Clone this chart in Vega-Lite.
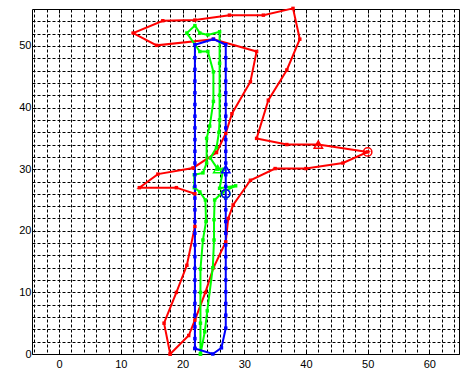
{
"$schema": "https://vega.github.io/schema/vega-lite/v6.json",
"width": 427, "height": 345,
"autosize": {"type": "none"},
"padding": {"left": 32, "top": 9, "right": 1, "bottom": 20},
"background": "white",
"config": {
 "view": {"stroke": "black", "strokeWidth": 1},
 "axis": {"labelFont": "Liberation Sans", "labelFontSize": 11, "labelColor": "black", "tickColor": "black", "title": null, "domain": false}
},
"datasets": {
 "poly": [
  {"s":"red","i":0,"x":18,"y":0},{"s":"red","i":1,"x":17,"y":5},{"s":"red","i":2,"x":19,"y":10},{"s":"red","i":3,"x":20.7,"y":14.4},{"s":"red","i":4,"x":22,"y":20.7},{"s":"red","i":5,"x":22,"y":26},{"s":"red","i":6,"x":19,"y":27},{"s":"red","i":7,"x":13,"y":27},{"s":"red","i":8,"x":16,"y":29.2},{"s":"red","i":9,"x":21.7,"y":30.2},{"s":"red","i":10,"x":25.5,"y":32.7},{"s":"red","i":11,"x":27,"y":35.8},{"s":"red","i":12,"x":28,"y":39},{"s":"red","i":13,"x":31,"y":44.2},{"s":"red","i":14,"x":32,"y":49.1},{"s":"red","i":15,"x":25,"y":51.1},{"s":"red","i":16,"x":15.8,"y":50.1},{"s":"red","i":17,"x":12,"y":52.1},{"s":"red","i":18,"x":16.8,"y":54.1},{"s":"red","i":19,"x":22,"y":54.2},{"s":"red","i":20,"x":27.6,"y":55},{"s":"red","i":21,"x":33.1,"y":55},{"s":"red","i":22,"x":37.9,"y":56.1},{"s":"red","i":23,"x":39,"y":51.1},{"s":"red","i":24,"x":36.9,"y":46.1},{"s":"red","i":25,"x":33.9,"y":41.2},{"s":"red","i":26,"x":32,"y":35},{"s":"red","i":27,"x":36.9,"y":34},{"s":"red","i":28,"x":42,"y":34},{"s":"red","i":29,"x":50,"y":32.8},{"s":"red","i":30,"x":46,"y":31},{"s":"red","i":31,"x":40,"y":30.1},{"s":"red","i":32,"x":35,"y":30.1},{"s":"red","i":33,"x":31,"y":28.2},{"s":"red","i":34,"x":28.2,"y":24.2},{"s":"red","i":35,"x":27.4,"y":22},{"s":"red","i":36,"x":27,"y":18.2},{"s":"red","i":37,"x":25,"y":14},{"s":"red","i":38,"x":23.7,"y":10},{"s":"red","i":39,"x":22,"y":5.5},{"s":"red","i":40,"x":21,"y":3},{"s":"red","i":41,"x":18,"y":0},
  {"s":"green","i":0,"x":22.9,"y":0},{"s":"green","i":1,"x":22.9,"y":5},{"s":"green","i":2,"x":22.9,"y":10},{"s":"green","i":3,"x":22.9,"y":13.8},{"s":"green","i":4,"x":23.3,"y":18.5},{"s":"green","i":5,"x":23.8,"y":21.5},{"s":"green","i":6,"x":23.7,"y":25},{"s":"green","i":7,"x":22.8,"y":26.3},{"s":"green","i":8,"x":21.9,"y":27},{"s":"green","i":9,"x":21.9,"y":29.1},{"s":"green","i":10,"x":23.3,"y":29.4},{"s":"green","i":11,"x":23.9,"y":31},{"s":"green","i":12,"x":23.9,"y":35},{"s":"green","i":13,"x":24.4,"y":37},{"s":"green","i":14,"x":25,"y":41},{"s":"green","i":15,"x":25,"y":45.8},{"s":"green","i":16,"x":24.1,"y":49.1},{"s":"green","i":17,"x":22.8,"y":49.1},{"s":"green","i":18,"x":20.7,"y":52.1},{"s":"green","i":19,"x":22,"y":53.3},{"s":"green","i":20,"x":22.8,"y":52.1},{"s":"green","i":21,"x":24.1,"y":51.8},{"s":"green","i":22,"x":26,"y":52.3},{"s":"green","i":23,"x":26,"y":47.2},{"s":"green","i":24,"x":26,"y":42},{"s":"green","i":25,"x":26,"y":38},{"s":"green","i":26,"x":25.9,"y":36},{"s":"green","i":27,"x":25.5,"y":33.5},{"s":"green","i":28,"x":24.5,"y":31.8},{"s":"green","i":29,"x":25.7,"y":30},{"s":"green","i":30,"x":26.6,"y":30},{"s":"green","i":31,"x":26,"y":26.9},{"s":"green","i":32,"x":28.6,"y":27.3},{"s":"green","i":33,"x":26.5,"y":26.3},{"s":"green","i":34,"x":25.2,"y":25},{"s":"green","i":35,"x":25.1,"y":21.8},{"s":"green","i":36,"x":25.1,"y":18.5},{"s":"green","i":37,"x":24.9,"y":14},{"s":"green","i":38,"x":24,"y":7},{"s":"green","i":39,"x":23.6,"y":3.6},{"s":"green","i":40,"x":22.9,"y":0},
  {"s":"blue","i":0,"x":22,"y":0.9},{"s":"blue","i":1,"x":22,"y":2.5},{"s":"blue","i":2,"x":22,"y":4.4},{"s":"blue","i":3,"x":22,"y":6.3},{"s":"blue","i":4,"x":22,"y":8.2},{"s":"blue","i":5,"x":22,"y":10.1},{"s":"blue","i":6,"x":22,"y":12},{"s":"blue","i":7,"x":22,"y":13.9},{"s":"blue","i":8,"x":22,"y":15.8},{"s":"blue","i":9,"x":22,"y":17.7},{"s":"blue","i":10,"x":22,"y":19.6},{"s":"blue","i":11,"x":22,"y":21.5},{"s":"blue","i":12,"x":22,"y":23.4},{"s":"blue","i":13,"x":22,"y":25.3},{"s":"blue","i":14,"x":22,"y":27.2},{"s":"blue","i":15,"x":22,"y":29.1},{"s":"blue","i":16,"x":22,"y":31},{"s":"blue","i":17,"x":22,"y":32.9},{"s":"blue","i":18,"x":22,"y":34.8},{"s":"blue","i":19,"x":22,"y":36.7},{"s":"blue","i":20,"x":22,"y":38.6},{"s":"blue","i":21,"x":22,"y":40.5},{"s":"blue","i":22,"x":22,"y":42.4},{"s":"blue","i":23,"x":22,"y":44.3},{"s":"blue","i":24,"x":22,"y":46.2},{"s":"blue","i":25,"x":22,"y":48.1},{"s":"blue","i":26,"x":22,"y":50.2},{"s":"blue","i":27,"x":25,"y":51.1},{"s":"blue","i":28,"x":27,"y":50.2},{"s":"blue","i":29,"x":27,"y":48.1},{"s":"blue","i":30,"x":27,"y":46.2},{"s":"blue","i":31,"x":27,"y":44.3},{"s":"blue","i":32,"x":27,"y":42.4},{"s":"blue","i":33,"x":27,"y":40.5},{"s":"blue","i":34,"x":27,"y":38.6},{"s":"blue","i":35,"x":27,"y":36.7},{"s":"blue","i":36,"x":27,"y":34.8},{"s":"blue","i":37,"x":27,"y":32.9},{"s":"blue","i":38,"x":27,"y":31},{"s":"blue","i":39,"x":27,"y":29.1},{"s":"blue","i":40,"x":27,"y":27.2},{"s":"blue","i":41,"x":27,"y":25.3},{"s":"blue","i":42,"x":27,"y":23.4},{"s":"blue","i":43,"x":27,"y":21.5},{"s":"blue","i":44,"x":27,"y":19.6},{"s":"blue","i":45,"x":27,"y":17.7},{"s":"blue","i":46,"x":27,"y":15.8},{"s":"blue","i":47,"x":27,"y":13.9},{"s":"blue","i":48,"x":27,"y":12},{"s":"blue","i":49,"x":27,"y":10.1},{"s":"blue","i":50,"x":27,"y":8.2},{"s":"blue","i":51,"x":27,"y":6.3},{"s":"blue","i":52,"x":27,"y":4.2},{"s":"blue","i":53,"x":26.3,"y":1},{"s":"blue","i":54,"x":24.9,"y":0},{"s":"blue","i":55,"x":22,"y":0.9}
 ],
 "markers": [
  {"s":"red","m":"triangle","x":42,"y":34},
  {"s":"red","m":"circle","x":50,"y":32.8},
  {"s":"green","m":"triangle","x":25.7,"y":30},
  {"s":"green","m":"circle","x":27,"y":26},
  {"s":"blue","m":"triangle","x":27,"y":30},
  {"s":"blue","m":"circle","x":27,"y":26}
 ]
},
"layer": [
 {
  "data": {"name": "poly"},
  "transform": [{"filter": "datum.s === 'red'"}],
  "mark": {"type": "line", "color": "#ff0000", "strokeWidth": 2},
  "encoding": {
   "x": {"field": "x", "type": "quantitative", "scale": {"domain": [-4.4, 64.8], "nice": false, "zero": false},
    "axis": {"orient": "bottom", "values": [-4,-2,0,2,4,6,8,10,12,14,16,18,20,22,24,26,28,30,32,34,36,38,40,42,44,46,48,50,52,54,56,58,60,62,64], "grid": true, "gridColor": "black", "gridOpacity": 1, "gridDash": [3,2], "gridWidth": 1, "labels": false, "ticks": false}},
   "y": {"field": "y", "type": "quantitative", "scale": {"domain": [0, 56], "nice": false, "zero": false},
    "axis": {"orient": "left", "values": [2,4,6,8,10,12,14,16,18,20,22,24,26,28,30,32,34,36,38,40,42,44,46,48,50,52,54], "grid": true, "gridColor": "black", "gridOpacity": 1, "gridDash": [3,2], "gridWidth": 1, "labels": false, "ticks": false}},
   "order": {"field": "i", "type": "quantitative"}
  }
 },
 {
  "data": {"name": "poly"},
  "transform": [{"filter": "datum.s === 'green'"}],
  "mark": {"type": "line", "color": "#00ff00", "strokeWidth": 2},
  "encoding": {
   "x": {"field": "x", "type": "quantitative", "scale": {"domain": [-4.4, 64.8], "nice": false, "zero": false},
    "axis": {"orient": "bottom", "values": [0,10,20,30,40,50,60], "grid": false, "tickSize": -4, "labelPadding": 8}},
   "y": {"field": "y", "type": "quantitative", "scale": {"domain": [0, 56], "nice": false, "zero": false},
    "axis": {"orient": "left", "values": [0,10,20,30,40,50], "grid": false, "tickSize": -4, "labelPadding": 5}},
   "order": {"field": "i", "type": "quantitative"}
  }
 },
 {
  "data": {"name": "poly"},
  "transform": [{"filter": "datum.s === 'blue'"}],
  "mark": {"type": "line", "color": "#0000ff", "strokeWidth": 2},
  "encoding": {
   "x": {"field": "x", "type": "quantitative", "scale": {"domain": [-4.4, 64.8], "nice": false, "zero": false},
    "axis": {"orient": "top", "values": [0,10,20,30,40,50,60], "grid": false, "labels": false, "tickSize": -4}},
   "y": {"field": "y", "type": "quantitative", "scale": {"domain": [0, 56], "nice": false, "zero": false},
    "axis": {"orient": "right", "values": [0,10,20,30,40,50], "grid": false, "labels": false, "tickSize": -4}},
   "order": {"field": "i", "type": "quantitative"}
  }
 },
 {
  "data": {"name": "poly"},
  "mark": {"type": "square", "filled": true, "size": 12, "opacity": 1},
  "encoding": {
   "x": {"field": "x", "type": "quantitative", "scale": {"domain": [-4.4, 64.8], "nice": false, "zero": false}, "axis": null},
   "y": {"field": "y", "type": "quantitative", "scale": {"domain": [0, 56], "nice": false, "zero": false}, "axis": null},
   "color": {"field": "s", "type": "nominal", "scale": {"domain": ["red","green","blue"], "range": ["#ff0000","#00ff00","#0000ff"]}, "legend": null}
  }
 },
 {
  "data": {"name": "markers"},
  "mark": {"type": "point", "filled": false, "size": 70, "strokeWidth": 1.5, "opacity": 1},
  "encoding": {
   "x": {"field": "x", "type": "quantitative", "scale": {"domain": [-4.4, 64.8], "nice": false, "zero": false}, "axis": null},
   "y": {"field": "y", "type": "quantitative", "scale": {"domain": [0, 56], "nice": false, "zero": false}, "axis": null},
   "color": {"field": "s", "type": "nominal", "scale": {"domain": ["red","green","blue"], "range": ["#ff0000","#00ff00","#0000ff"]}, "legend": null},
   "shape": {"field": "m", "type": "nominal", "scale": {"domain": ["triangle","circle"], "range": ["triangle-up","circle"]}, "legend": null}
  }
 }
],
"resolve": {"axis": {"x": "independent", "y": "independent"}}
}
